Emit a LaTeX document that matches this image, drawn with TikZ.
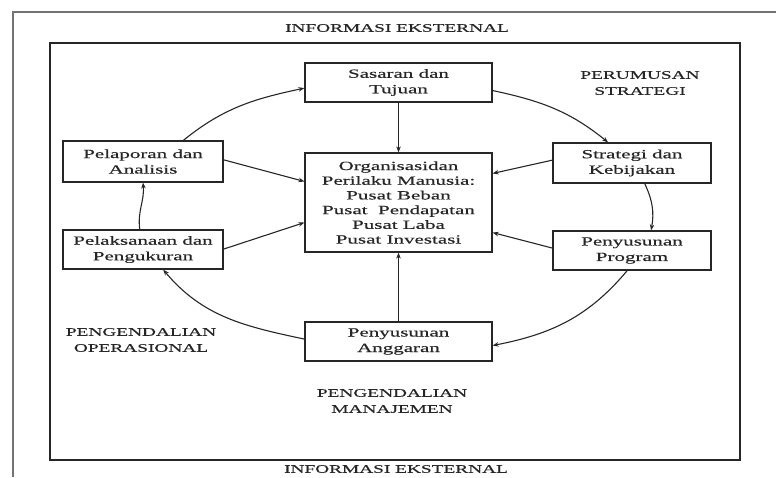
\documentclass[tikz,border=0pt]{standalone}
\usepackage{fontspec}
\setmainfont{Liberation Serif}[FakeStretch=1.68,FakeBold=0.4]
\usetikzlibrary{arrows.meta,calc}
\begin{document}
\begin{tikzpicture}[x=1pt,y=1pt,
  box/.style={draw=black!85, line width=1.2pt, fill=white, inner sep=0pt, align=center,
    font=\fontsize{12.5}{15.5}\selectfont, text=black!85},
  lbl/.style={align=center, font=\fontsize{11.5}{16}\selectfont, text=black!85},
  con/.style={draw=black!85, line width=1.1pt, -{Stealth[length=6pt,width=4.5pt]}},
  frame/.style={draw=black!55, line width=1.6pt}
]
\useasboundingbox (0,0) rectangle (776,-477);
% page frame
\coordinate (ftr) at (776,-12);
\coordinate (ftl) at (13,-12);
\coordinate (fbl) at (13,-477);
\draw[frame] (ftr) -- (ftl) -- (fbl);
% inner frame
\draw[draw=black!85, line width=1.2pt] (50,-43) rectangle (740,-460);

\node[lbl] (toplbl) at (397,-28) {INFORMASI EKSTERNAL};
\node[lbl] (botlbl) at (396,-469) {INFORMASI EKSTERNAL};
\node[lbl] (perum) at (640,-83) {PERUMUSAN\\STRATEGI};
\node[lbl] (opl) at (141,-340) {PENGENDALIAN\\OPERASIONAL};
\node[lbl] (mgmt) at (392,-401) {PENGENDALIAN\\MANAJEMEN};

\node[box, minimum width=187pt, minimum height=39pt] (sas) at (398.5,-82.5) {Sasaran dan\\Tujuan};
\node[box, minimum width=187pt, minimum height=99pt, font=\fontsize{12.5}{14.7}\selectfont] (org) at (398.5,-202.5)
  {Organisasidan\\Perilaku Manusia:\\Pusat Beban\\Pusat\ \ Pendapatan\\Pusat Laba\\Pusat Investasi};
\node[box, minimum width=187pt, minimum height=39pt] (ang) at (398.5,-341.5) {Penyusunan\\Anggaran};
\node[box, minimum width=160pt, minimum height=41pt] (pel) at (143,-161.5) {Pelaporan dan\\Analisis};
\node[box, minimum width=160pt, minimum height=39pt] (pks) at (143,-249.5) {Pelaksanaan dan\\Pengukuran};
\node[box, minimum width=158pt, minimum height=40pt] (str) at (632,-163) {Strategi dan\\Kebijakan};
\node[box, minimum width=158pt, minimum height=39pt] (prg) at (632,-250.5) {Penyusunan\\Program};

% straight connectors
\draw[con] (sas.south) -- (org.north);
\draw[con] (ang.north) -- (org.south);
\draw[con] ($(pel.north east)!0.46!(pel.south east)$) -- ($(org.north west)!0.29!(org.south west)$);
\draw[con] ($(pks.north east)!0.49!(pks.south east)$) -- ($(org.north west)!0.70!(org.south west)$);
\draw[con] ($(str.north west)!0.43!(str.south west)$) -- ($(org.north east)!0.21!(org.south east)$);
\draw[con] ($(prg.north west)!0.44!(prg.south west)$) -- ($(org.north east)!0.80!(org.south east)$);

% cycle
\draw[con] ($(pel.north west)!0.75!(pel.north east)$) to[out=39,in=192] ($(sas.north west)!0.64!(sas.south west)$);
\draw[con] ($(sas.north east)!0.7!(sas.south east)$) to[out=-12,in=141] ($(str.north west)!0.35!(str.north east)$);
\draw[con] ($(str.south west)!0.58!(str.south east)$) to[out=-65,in=80] ($(prg.north west)!0.62!(prg.north east)$);
\draw[con] ($(prg.south west)!0.47!(prg.south east)$) to[out=-130,in=11] ($(ang.north east)!0.6!(ang.south east)$);
\draw[con] ($(ang.north west)!0.44!(ang.south west)$) to[out=168,in=-50] ($(pks.south west)!0.625!(pks.south east)$);
\draw[con] ($(pks.north west)!0.48!(pks.north east)$) to[out=98,in=-85] ($(pel.south west)!0.5!(pel.south east)$);
\end{tikzpicture}
\end{document}
